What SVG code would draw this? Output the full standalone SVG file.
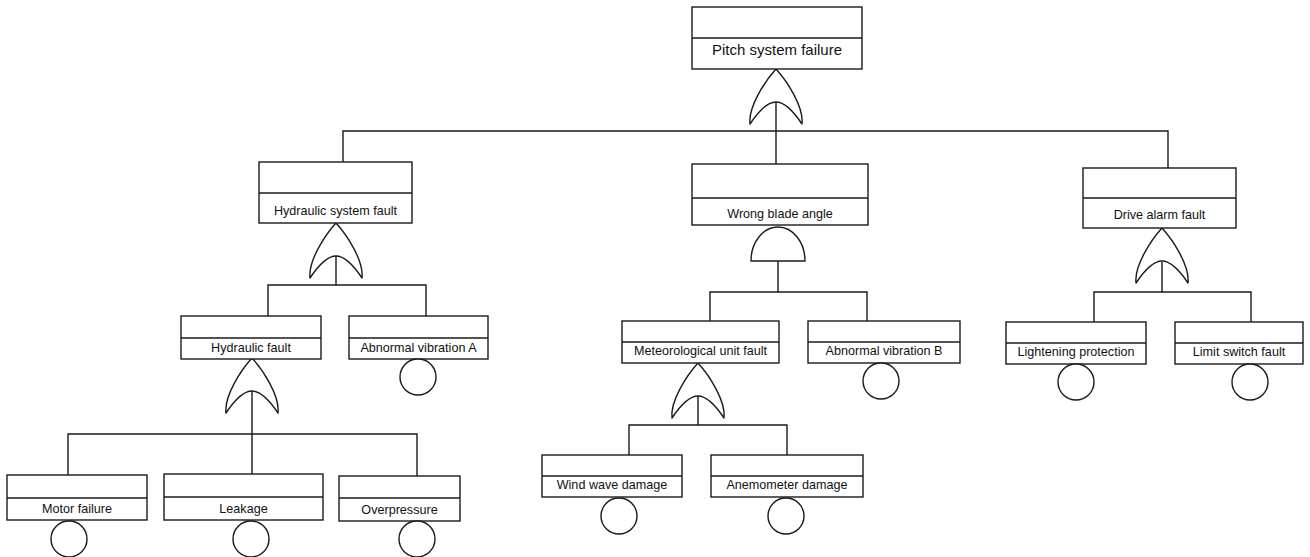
<svg xmlns="http://www.w3.org/2000/svg" width="1310" height="557" viewBox="0 0 1310 557">
  <style>
    .box { fill: #ffffff; stroke: #1a1a1a; stroke-width: 1.4; }
    .div { stroke: #1a1a1a; stroke-width: 1.4; }
    .gate { fill: #ffffff; stroke: #1a1a1a; stroke-width: 1.4; stroke-linejoin: round; }
    .evt { fill: #ffffff; stroke: #1a1a1a; stroke-width: 1.4; }
    .wire { fill: none; stroke: #1a1a1a; stroke-width: 1.4; }
    text { font-family: "Liberation Sans", Arial, sans-serif; fill: #111111; text-anchor: middle; }
    .lbl { font-size: 12.6px; }
    .top { font-size: 15px; }
  </style>
  <defs>
    <!-- OR gate, apex at origin, tips at (+-26, 55), inner apex at (0, 33) -->
    <path id="orGate" class="gate" d="M0,0 C-11,12 -28,38 -26,55 C-18,43 -9,33 0,33 C9,33 18,43 26,55 C28,38 11,12 0,0 Z"/>
  </defs>

  <rect width="1310" height="557" fill="#ffffff"/>

  <!-- connectors -->
  <g id="connectors">
    <path class="wire" d="M776,101 V164 M343,162 V131 H1168 V168"/>
    <path class="wire" d="M336,256 V285 M268,316 V285 H426 V316"/>
    <path class="wire" d="M252,391 V474 M68,475 V434 H417 V476"/>
    <path class="wire" d="M778,261 V292 M710,321 V292 H867 V321"/>
    <path class="wire" d="M698,396 V425 M629,455 V425 H787 V455"/>
    <path class="wire" d="M1162,262 V292 M1094,322 V292 H1251 V322"/>
  </g>

  <!-- gates -->
  <g id="gate-top"><use href="#orGate" transform="translate(776,69)"/></g>
  <g id="gate-hydraulic-system"><use href="#orGate" transform="translate(336,223)"/></g>
  <g id="gate-blade-angle"><path class="gate" d="M751,261 A27,34 0 0 1 805,261 Z"/></g>
  <g id="gate-drive-alarm"><use href="#orGate" transform="translate(1162,228)"/></g>
  <g id="gate-hydraulic"><use href="#orGate" transform="translate(252,358)"/></g>
  <g id="gate-meteo"><use href="#orGate" transform="translate(698,363)"/></g>

  <!-- events -->
  <g id="pitch-system-failure">
    <rect class="box" x="692" y="7" width="170" height="62"/>
    <line class="div" x1="692" y1="38" x2="862" y2="38"/>
    <text class="top" x="777" y="55">Pitch system failure</text>
  </g>
  <g id="hydraulic-system-fault">
    <rect class="box" x="259" y="162" width="153" height="61"/>
    <line class="div" x1="259" y1="193" x2="412" y2="193"/>
    <text class="lbl" x="335.5" y="215">Hydraulic system fault</text>
  </g>
  <g id="wrong-blade-angle">
    <rect class="box" x="692" y="164" width="176" height="61"/>
    <line class="div" x1="692" y1="198" x2="868" y2="198"/>
    <text class="lbl" x="780" y="218">Wrong blade angle</text>
  </g>
  <g id="drive-alarm-fault">
    <rect class="box" x="1083" y="168" width="153" height="60"/>
    <line class="div" x1="1083" y1="198" x2="1236" y2="198"/>
    <text class="lbl" x="1159.5" y="219">Drive alarm fault</text>
  </g>
  <g id="hydraulic-fault">
    <rect class="box" x="181" y="316" width="140" height="43"/>
    <line class="div" x1="181" y1="338" x2="321" y2="338"/>
    <text class="lbl" x="251" y="352">Hydraulic fault</text>
  </g>
  <g id="abnormal-vibration-a">
    <rect class="box" x="349" y="316" width="139" height="43"/>
    <line class="div" x1="349" y1="338" x2="488" y2="338"/>
    <text class="lbl" x="418.5" y="352">Abnormal vibration A</text>
    <circle class="evt" cx="418" cy="377" r="18"/>
  </g>
  <g id="meteorological-unit-fault">
    <rect class="box" x="622" y="321" width="157" height="42"/>
    <line class="div" x1="622" y1="342" x2="779" y2="342"/>
    <text class="lbl" x="700.5" y="355">Meteorological unit fault</text>
  </g>
  <g id="abnormal-vibration-b">
    <rect class="box" x="808" y="321" width="152" height="42"/>
    <line class="div" x1="808" y1="342" x2="960" y2="342"/>
    <text class="lbl" x="884" y="355">Abnormal vibration B</text>
    <circle class="evt" cx="881" cy="381" r="18"/>
  </g>
  <g id="lightening-protection">
    <rect class="box" x="1006" y="322" width="140" height="42"/>
    <line class="div" x1="1006" y1="343" x2="1146" y2="343"/>
    <text class="lbl" x="1076" y="356">Lightening protection</text>
    <circle class="evt" cx="1076" cy="382" r="18"/>
  </g>
  <g id="limit-switch-fault">
    <rect class="box" x="1175" y="322" width="128" height="42"/>
    <line class="div" x1="1175" y1="343" x2="1303" y2="343"/>
    <text class="lbl" x="1239" y="356">Limit switch fault</text>
    <circle class="evt" cx="1250" cy="382" r="18"/>
  </g>
  <g id="motor-failure">
    <rect class="box" x="7" y="475" width="140" height="45"/>
    <line class="div" x1="7" y1="498" x2="147" y2="498"/>
    <text class="lbl" x="77" y="513">Motor failure</text>
    <circle class="evt" cx="69" cy="539" r="18"/>
  </g>
  <g id="leakage">
    <rect class="box" x="164" y="474" width="159" height="46"/>
    <line class="div" x1="164" y1="497" x2="323" y2="497"/>
    <text class="lbl" x="243.5" y="513">Leakage</text>
    <circle class="evt" cx="251" cy="539" r="18"/>
  </g>
  <g id="overpressure">
    <rect class="box" x="339" y="476" width="121" height="45"/>
    <line class="div" x1="339" y1="498" x2="460" y2="498"/>
    <text class="lbl" x="399.5" y="514">Overpressure</text>
    <circle class="evt" cx="417" cy="539" r="18"/>
  </g>
  <g id="wind-wave-damage">
    <rect class="box" x="542" y="455" width="140" height="42"/>
    <line class="div" x1="542" y1="476" x2="682" y2="476"/>
    <text class="lbl" x="612" y="489">Wind wave damage</text>
    <circle class="evt" cx="619" cy="516" r="18"/>
  </g>
  <g id="anemometer-damage">
    <rect class="box" x="711" y="455" width="152" height="42"/>
    <line class="div" x1="711" y1="476" x2="863" y2="476"/>
    <text class="lbl" x="787" y="489">Anemometer damage</text>
    <circle class="evt" cx="786" cy="516" r="18"/>
  </g>
</svg>
